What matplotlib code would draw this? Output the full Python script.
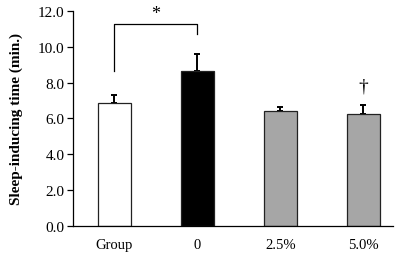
import matplotlib
matplotlib.use('Agg')
import matplotlib.pyplot as plt

plt.rcParams['font.family'] = ['Liberation Serif', 'DejaVu Serif']

groups = ['Group', '0', '2.5%', '5.0%']
means = [6.85, 8.65, 6.4, 6.22]
errors = [0.48, 0.93, 0.25, 0.55]
colors = ['white', 'black', '#a6a6a6', '#a6a6a6']
yticks = [0, 2, 4, 6, 8, 10, 12]

fig = plt.figure(figsize=(3.96, 2.55), dpi=100)
ax = fig.add_axes([73 / 396, 1 - 226.7 / 255, 320 / 396, 214.7 / 255])

x = list(range(len(groups)))
ax.bar(x, means, width=0.4, color=colors, edgecolor='#222222', linewidth=0.9, zorder=2)
ax.errorbar(x, means, yerr=[[0] * len(errors), errors], fmt='none', ecolor='black',
            elinewidth=1.4, capsize=2.4, capthick=1.4, zorder=1)

# significance bracket
ax.plot([0, 0, 1, 1], [8.65, 11.3, 11.3, 10.7], color='black', lw=0.9)
ax.text(0.5, 11.85, '*', ha='center', va='center', fontsize=13)
ax.text(3, 7.8, '\u2020', ha='center', va='center', fontsize=14)

ax.set_xlim(-0.5, 3.36)
ax.set_ylim(0, 12)
ax.set_yticks(yticks)
ax.set_yticklabels([f'{v:.1f}' for v in yticks], fontsize=11)
ax.set_xticks(x)
ax.set_xticklabels(groups, fontsize=10.5)
ax.tick_params(axis='x', length=0, pad=9)
ax.tick_params(axis='y', direction='out', length=4, width=0.9, pad=2)
ax.spines['top'].set_visible(False)
ax.spines['right'].set_visible(False)
ax.spines['left'].set_linewidth(0.9)
ax.spines['bottom'].set_linewidth(0.9)
ax.set_ylabel('Sleep-inducing time (min.)', fontsize=11, fontweight='bold', labelpad=11)

fig.savefig('out.png', dpi=100)
